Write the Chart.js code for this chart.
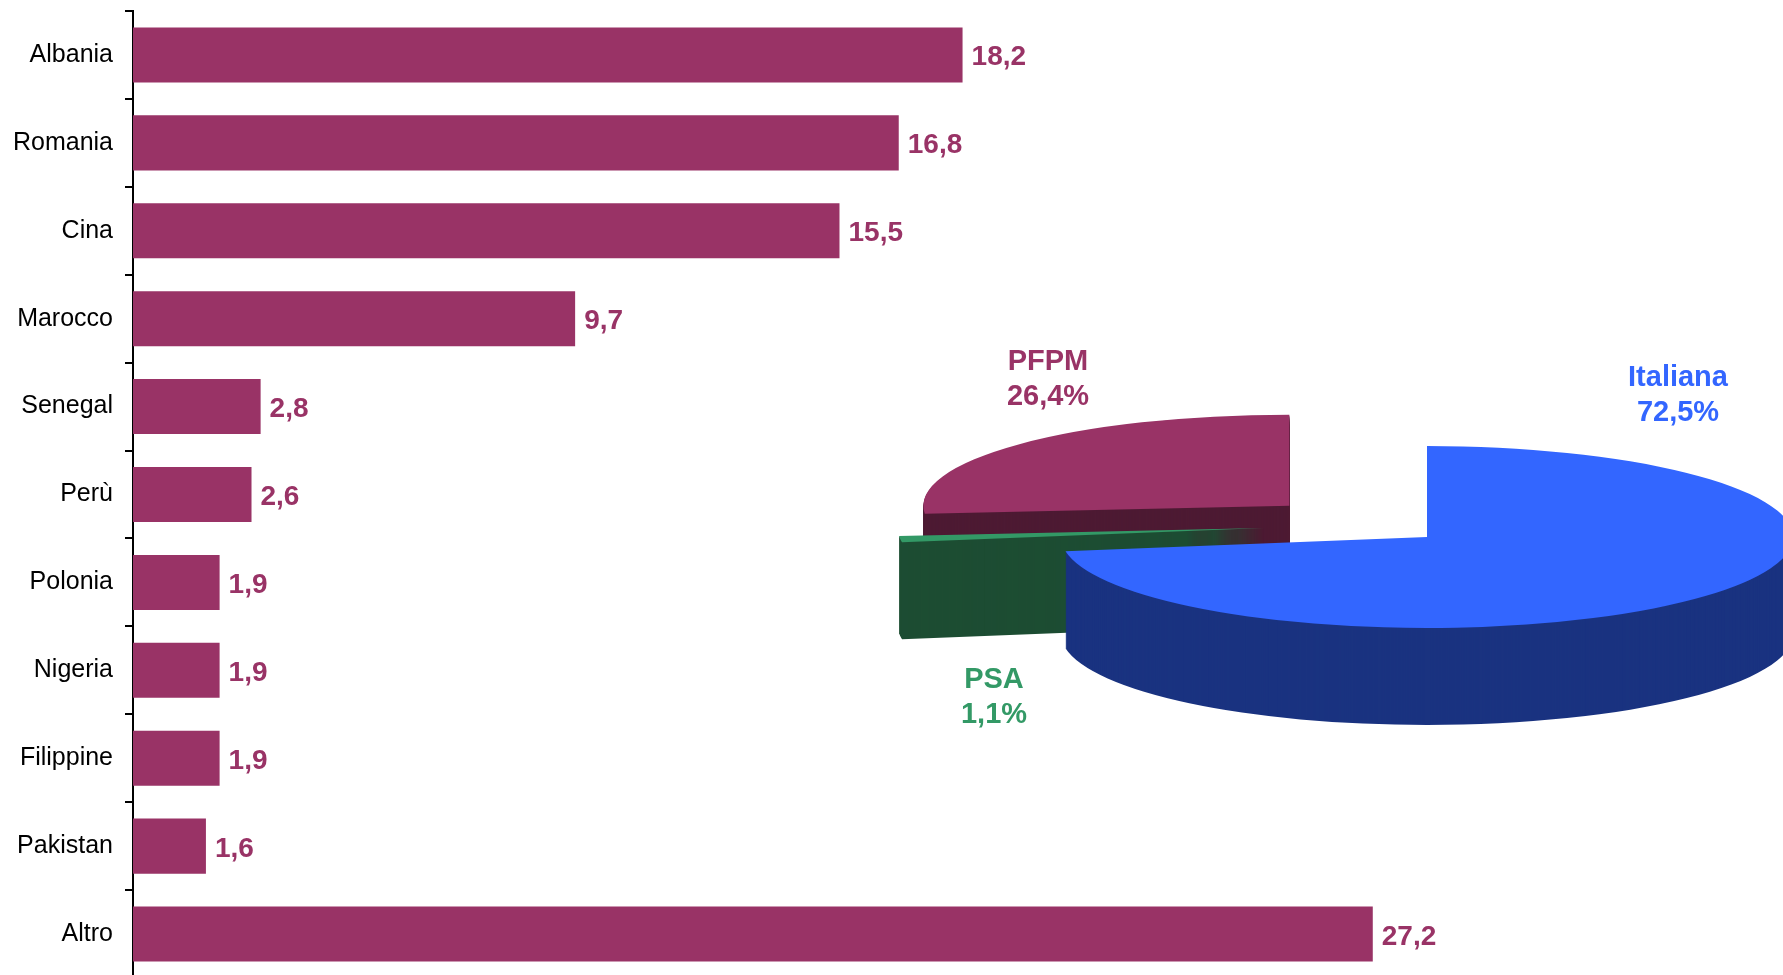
<!DOCTYPE html>
<html>
<head>
<meta charset="utf-8">
<script src="https://cdn.jsdelivr.net/npm/chart.js@4.4.1/dist/chart.umd.min.js"></script>
<style>
  html, body { margin: 0; padding: 0; background: #ffffff; width: 1783px; height: 975px; overflow: hidden; }
  #wrap { position: relative; width: 1783px; height: 975px; }
  #bars { position: absolute; left: 0; top: 0; }
  #pie { position: absolute; left: 0; top: 0; pointer-events: none; }
</style>
</head>
<body>
<div id="wrap">
  <canvas id="bars" width="1783" height="990"></canvas>
  <canvas id="pie" width="1783" height="975"></canvas>
</div>
<script>
// ---------- data ----------
const CATEGORIES = ['Albania', 'Romania', 'Cina', 'Marocco', 'Senegal', 'Perù', 'Polonia', 'Nigeria', 'Filippine', 'Pakistan', 'Altro'];
const VALUES = [18.2, 16.8, 15.5, 9.7, 2.8, 2.6, 1.9, 1.9, 1.9, 1.6, 27.2];
const PIE_LABELS = ['Italiana', 'PSA', 'PFPM'];
const PIE_VALUES = [72.5, 1.1, 26.4];

// ---------- styles ----------
const FONT = '"Liberation Sans", Arial, Helvetica, sans-serif';
const BAR_COLOR = '#993366';
const PIE_TOP = ['#3366FF', '#339966', '#993366'];
const PIE_WALL = ['#1A3380', '#1D4D33', '#4D1A33'];
const PIE_TEXT = ['#3366FF', '#339966', '#993366'];
const PIE_EXPLODE = [0, 0.45, 0.51];
const PIE_LIFT = [0, 14, 0];
const PIE_ORDER = [2, 1, 0];               // back to front
const PIE_GEOM = { cx: 1427, cy: 537, rx: 366, ry: 91, depth: 97 };
const PIE_LABEL_POS = [ {x: 1678, y: 386}, {x: 994, y: 688}, {x: 1048, y: 370} ];

const fmt = v => v.toFixed(1).replace('.', ',');

// ---------- bar chart ----------
const valueLabels = {
  id: 'valueLabels',
  afterDatasetsDraw(chart) {
    const ctx = chart.ctx;
    const meta = chart.getDatasetMeta(0);
    ctx.save();
    ctx.font = 'bold 28px ' + FONT;
    ctx.fillStyle = BAR_COLOR;
    ctx.textAlign = 'left';
    ctx.textBaseline = 'alphabetic';
    meta.data.forEach((bar, i) => {
      ctx.fillText(fmt(VALUES[i]), bar.x + 9, bar.y + 10.5);
    });
    ctx.restore();
  }
};

new Chart(document.getElementById('bars'), {
  type: 'bar',
  data: {
    labels: CATEGORIES,
    datasets: [{
      data: VALUES,
      backgroundColor: BAR_COLOR,
      borderWidth: 0,
      categoryPercentage: 1,
      barPercentage: 0.626
    }]
  },
  options: {
    indexAxis: 'y',
    responsive: false,
    animation: false,
    devicePixelRatio: 1,
    events: [],
    layout: { padding: { top: 11, bottom: 12, left: 0, right: 0 } },
    plugins: { legend: { display: false }, tooltip: { enabled: false }, title: { display: false } },
    scales: {
      x: { type: 'linear', min: 0, max: 36.2, display: false },
      y: {
        type: 'category',
        offset: true,
        afterFit(scale) {
          scale.width = 133;
          scale.paddingTop = 0;
          scale.paddingBottom = 0;
        },
        grid: {
          display: true,
          offset: true,
          drawOnChartArea: false,
          drawTicks: true,
          tickLength: 8,
          color: '#000000',
          lineWidth: 2
        },
        border: { display: true, color: '#000000', width: 2 },
        ticks: {
          color: '#000000',
          padding: 12,
          font: { family: FONT, size: 25 }
        }
      }
    }
  },
  plugins: [valueLabels]
});

// ---------- 3D exploded pie ----------
const pie3d = {
  id: 'pie3d',
  beforeDatasetsDraw(chart) {
    const ctx = chart.ctx;
    const meta = chart.getDatasetMeta(0);
    const G = PIE_GEOM;
    const items = meta.data.map((el, i) => {
      const p = el.getProps(['x', 'y', 'startAngle', 'endAngle', 'outerRadius'], true);
      const mid = (p.startAngle + p.endAngle) / 2;
      return {
        el, i, p,
        dx: Math.cos(mid) * G.rx * PIE_EXPLODE[i],
        dy: Math.sin(mid) * G.ry * PIE_EXPLODE[i] - PIE_LIFT[i]
      };
    });
    PIE_ORDER.forEach(idx => {
      const it = items[idx];
      const p = it.p;
      const sx = G.rx / p.outerRadius, sy = G.ry / p.outerRadius;
      const place = (extra) => {
        ctx.translate(G.cx + it.dx, G.cy + it.dy + extra);
        ctx.scale(sx, sy);
        ctx.translate(-p.x, -p.y);
      };
      ctx.fillStyle = PIE_WALL[idx];
      for (let d = G.depth; d >= 1; d--) {
        ctx.save();
        place(d);
        ctx.beginPath();
        ctx.moveTo(p.x, p.y);
        ctx.arc(p.x, p.y, p.outerRadius, p.startAngle, p.endAngle);
        ctx.closePath();
        ctx.fill();
        ctx.restore();
      }
      ctx.save();
      place(0);
      it.el.draw(ctx);
      ctx.restore();
    });
    return false;
  },
  afterDraw(chart) {
    const ctx = chart.ctx;
    ctx.save();
    ctx.font = 'bold 29px ' + FONT;
    ctx.textAlign = 'center';
    ctx.textBaseline = 'alphabetic';
    PIE_LABELS.forEach((lab, i) => {
      const pos = PIE_LABEL_POS[i];
      ctx.fillStyle = PIE_TEXT[i];
      ctx.fillText(lab, pos.x, pos.y);
      ctx.fillText(fmt(PIE_VALUES[i]) + '%', pos.x, pos.y + 35);
    });
    ctx.restore();
  }
};

new Chart(document.getElementById('pie'), {
  type: 'pie',
  data: {
    labels: PIE_LABELS,
    datasets: [{
      data: PIE_VALUES,
      backgroundColor: PIE_TOP,
      borderWidth: 0
    }]
  },
  options: {
    responsive: false,
    animation: false,
    devicePixelRatio: 1,
    events: [],
    plugins: { legend: { display: false }, tooltip: { enabled: false } }
  },
  plugins: [pie3d]
});
</script>
</body>
</html>
